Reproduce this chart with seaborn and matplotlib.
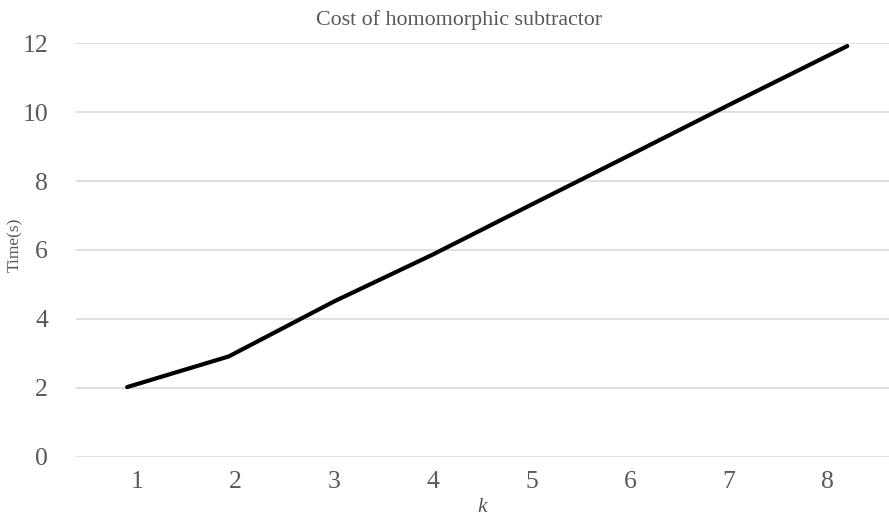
import matplotlib
matplotlib.use("Agg")
import matplotlib.pyplot as plt
import seaborn as sns
import pandas as pd

# Data
k_categories = [1, 2, 3, 4, 5, 6, 7, 8]
k_line = [0.9, 1.93, 3.0, 4.0, 5.0, 6.0, 7.0, 8.2]
time_s = [2.02, 2.91, 4.51, 5.87, 7.32, 8.76, 10.21, 11.92]
y_ticks = [0, 2, 4, 6, 8, 10, 12]

sns.set_theme(style="white")
plt.rcParams['font.family'] = ['Liberation Serif', 'DejaVu Serif']

fig = plt.figure(figsize=(8.89, 5.18), dpi=100)
ax = fig.add_axes([76 / 889, 1 - 456.7 / 518, (888.5 - 76) / 889, (456.7 - 43.3) / 518])

df = pd.DataFrame({"k": k_line, "Time": time_s})
sns.lineplot(data=df, x="k", y="Time", ax=ax, color="black", linewidth=3.0,
             solid_capstyle="round", zorder=3)

ax.set_ylim(0, 12)
ax.set_xlim(0.382, 8.618)
ax.set_yticks(y_ticks)
ax.set_xticks(k_categories)
ax.set_xticklabels([str(v) for v in k_categories])
ax.grid(axis="y", color="#d9d9d9", linewidth=1.2)
ax.grid(axis="x", visible=False)
for s in ax.spines.values():
    s.set_visible(False)
ax.tick_params(axis="both", length=0, labelsize=18.5, colors="#595959")
ax.tick_params(axis="y", pad=20)
ax.tick_params(axis="x", pad=10)

ax.set_xlabel("k", fontsize=15.5, style="italic", color="#595959", labelpad=4)
ax.set_ylabel("")
fig.text(15 / 889, 1 - 245 / 518, "Time(s)", rotation=90, ha="center", va="center",
         fontsize=12.5, color="#595959")

fig.text(459 / 889, 1 - 20 / 518, "Cost of homomorphic subtractor",
         ha="center", va="center", fontsize=15.8, color="#595959")

fig.savefig("out.png", dpi=100)
